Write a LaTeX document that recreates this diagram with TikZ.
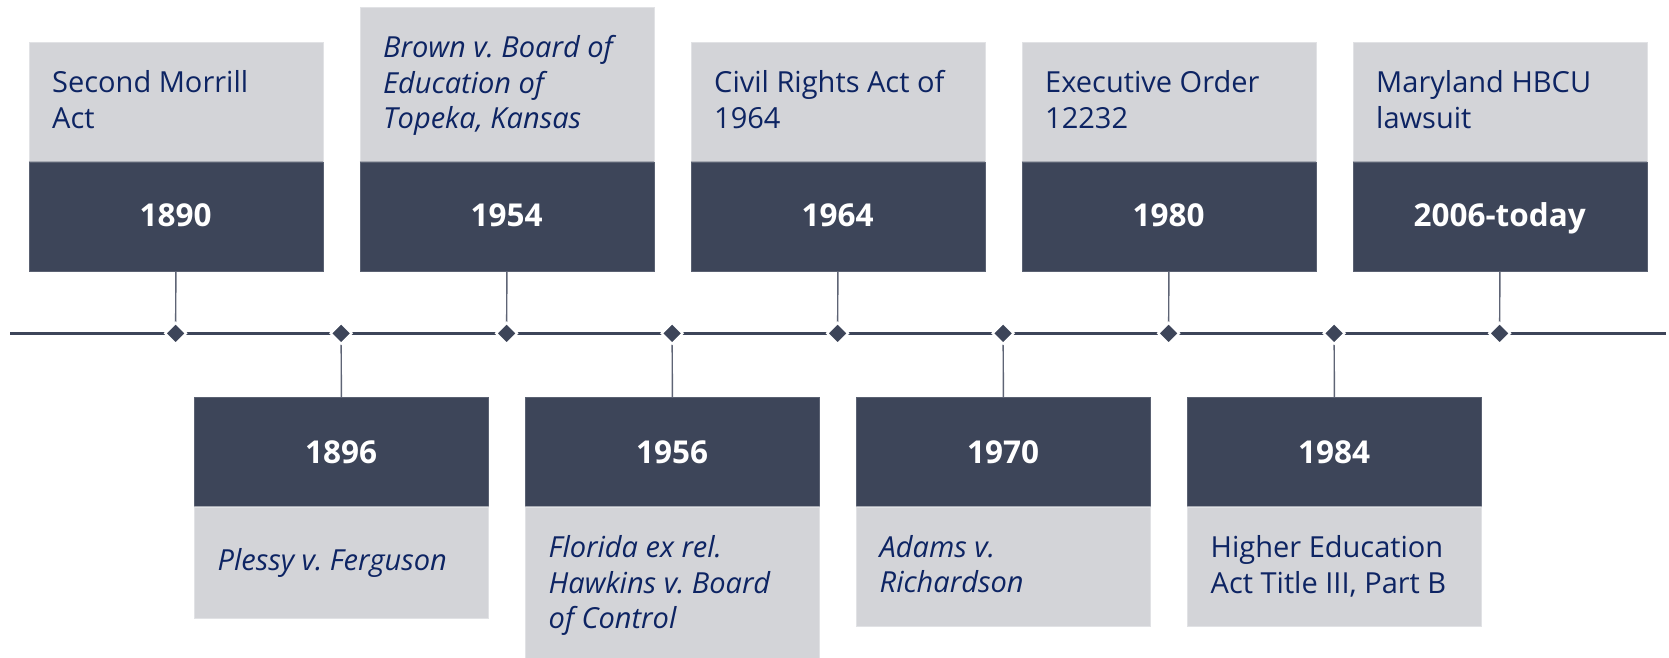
\documentclass[tikz,border=0pt]{standalone}
\usepackage{fontspec}
\setmainfont{Open Sans}
\frenchspacing
\definecolor{darkbox}{HTML}{3D4559}
\definecolor{lightbox}{HTML}{D3D4D8}
\definecolor{navytext}{HTML}{0D2463}
\definecolor{conngray}{HTML}{5E6475}
\definecolor{sepgray}{HTML}{A6A9B2}
\definecolor{edgelight}{HTML}{E1E2E5}
\tikzset{
  lightrect/.style={fill=lightbox, draw=edgelight, line width=0.8pt, inner sep=0pt, minimum width=294pt, anchor=north west},
  darkrect/.style={fill=darkbox, draw=darkbox!85!white, line width=0.6pt, inner sep=0pt, minimum width=294pt, anchor=north west},
  desc/.style={anchor=base west, inner sep=0pt, text=navytext, font=\fontsize{29}{35}\selectfont},
  idesc/.style={desc, font=\fontsize{29}{35}\selectfont\itshape},
  yearlbl/.style={anchor=base, inner sep=0pt, text=white, font=\fontsize{31.5}{38}\selectfont\bfseries},
  conn/.style={draw=conngray, line width=1.4pt},
  timeline/.style={draw=darkbox, line width=2.8pt},
  dia/.style={fill=darkbox, draw=white, line width=2.2pt, diamond shape},
  diamond shape/.style={shape=rectangle, rotate=45, minimum size=14.8pt, inner sep=0pt},
}
\begin{document}
\begin{tikzpicture}[x=1pt,y=-1pt]
\useasboundingbox (0,0) rectangle (1669,657);
\begin{scope}
\clip (0,0) rectangle (1669,657);
% timeline
\coordinate (tlL) at (10,333.3);
\coordinate (tlR) at (1666,333.3);
\draw[timeline] (tlL) -- (tlR);

% ---------- top events ----------
% 1890
\node[lightrect, minimum height=120pt] (l1890) at (28.6,41.7) {};
\node[darkrect, minimum height=109.3pt] (d1890) at (28.6,161.7) {};
\node[yearlbl] (y1890) at (175.6,226.7) {1890};
\node[desc] (t1890a) at (52,92.7) {Second Morrill};
\node[desc] (t1890b) at (52,128.4) {Act};
% 1954
\node[lightrect, minimum height=154.4pt] (l1954) at (359.6,7.3) {};
\node[darkrect, minimum height=109.3pt] (d1954) at (359.6,161.7) {};
\node[yearlbl] (y1954) at (506.6,226.7) {1954};
\node[idesc] (t1954a) at (383,57.3) {Brown v. Board of};
\node[idesc] (t1954b) at (383,93) {Education of};
\node[idesc] (t1954c) at (383,128.7) {Topeka, Kansas};
% 1964
\node[lightrect, minimum height=120pt] (l1964) at (690.6,41.7) {};
\node[darkrect, minimum height=109.3pt] (d1964) at (690.6,161.7) {};
\node[yearlbl] (y1964) at (837.6,226.7) {1964};
\node[desc] (t1964a) at (714,92.7) {Civil Rights Act of};
\node[desc] (t1964b) at (714,128.4) {1964};
% 1980
\node[lightrect, minimum height=120pt] (l1980) at (1021.6,41.7) {};
\node[darkrect, minimum height=109.3pt] (d1980) at (1021.6,161.7) {};
\node[yearlbl] (y1980) at (1168.6,226.7) {1980};
\node[desc] (t1980a) at (1045,92.7) {Executive Order};
\node[desc] (t1980b) at (1045,128.4) {12232};
% 2006
\node[lightrect, minimum height=120pt] (l2006) at (1352.6,41.7) {};
\node[darkrect, minimum height=109.3pt] (d2006) at (1352.6,161.7) {};
\node[yearlbl] (y2006) at (1499.6,226.7) {2006-today};
\node[desc] (t2006a) at (1376,92.7) {Maryland HBCU};
\node[desc] (t2006b) at (1376,128.4) {lawsuit};

% ---------- bottom events ----------
% 1896
\node[darkrect, minimum height=109.7pt] (d1896) at (194.1,397) {};
\node[lightrect, minimum height=111.7pt] (l1896) at (194.1,506.7) {};
\node[yearlbl] (y1896) at (341.1,463) {1896};
\node[idesc] (t1896a) at (217.5,570) {Plessy v. Ferguson};
% 1956
\node[darkrect, minimum height=109.7pt] (d1956) at (525.1,397) {};
\node[lightrect, minimum height=160pt] (l1956) at (525.1,506.7) {};
\node[yearlbl] (y1956) at (672.1,463) {1956};
\node[idesc] (t1956a) at (548.5,557.7) {Florida ex rel.};
\node[idesc] (t1956b) at (548.5,593.2) {Hawkins v. Board};
\node[idesc] (t1956c) at (548.5,628.7) {of Control};
% 1970
\node[darkrect, minimum height=109.7pt] (d1970) at (856.1,397) {};
\node[lightrect, minimum height=119.3pt] (l1970) at (856.1,506.7) {};
\node[yearlbl] (y1970) at (1003.1,463) {1970};
\node[idesc] (t1970a) at (879.5,557.7) {Adams v.};
\node[idesc] (t1970b) at (879.5,592.5) {Richardson};
% 1984
\node[darkrect, minimum height=109.7pt] (d1984) at (1187.1,397) {};
\node[lightrect, minimum height=119.3pt] (l1984) at (1187.1,506.7) {};
\node[yearlbl] (y1984) at (1334.1,463) {1984};
\node[desc] (t1984a) at (1210.5,557.5) {Higher Education};
\node[desc] (t1984b) at (1210.5,593.2) {Act Title III, Part B};

% separators between light and dark parts
\foreach \n in {1890,1954,1964,1980,2006}{
  \draw[sepgray, line width=1.2pt] (d\n.north west) -- (d\n.north east);
}
\foreach \n in {1896,1956,1970,1984}{
  \draw[sepgray, line width=1.2pt] (l\n.north west) -- (l\n.north east);
}

% ---------- diamonds and connectors ----------
\coordinate (p1890) at (175.6,333.3);
\coordinate (p1896) at (341.1,333.3);
\coordinate (p1954) at (506.6,333.3);
\coordinate (p1956) at (672.1,333.3);
\coordinate (p1964) at (837.6,333.3);
\coordinate (p1970) at (1003.1,333.3);
\coordinate (p1980) at (1168.6,333.3);
\coordinate (p1984) at (1334.1,333.3);
\coordinate (p2006) at (1499.6,333.3);
\foreach \n in {1890,1954,1964,1980,2006}{
  \draw[conn] (d\n.south) -- (p\n);
}
\foreach \n in {1896,1956,1970,1984}{
  \draw[conn] (p\n) -- (d\n.north);
}
\foreach \n in {1890,1896,1954,1956,1964,1970,1980,1984,2006}{
  \node[dia] (m\n) at (p\n) {};
}
\end{scope}
\end{tikzpicture}
\end{document}
